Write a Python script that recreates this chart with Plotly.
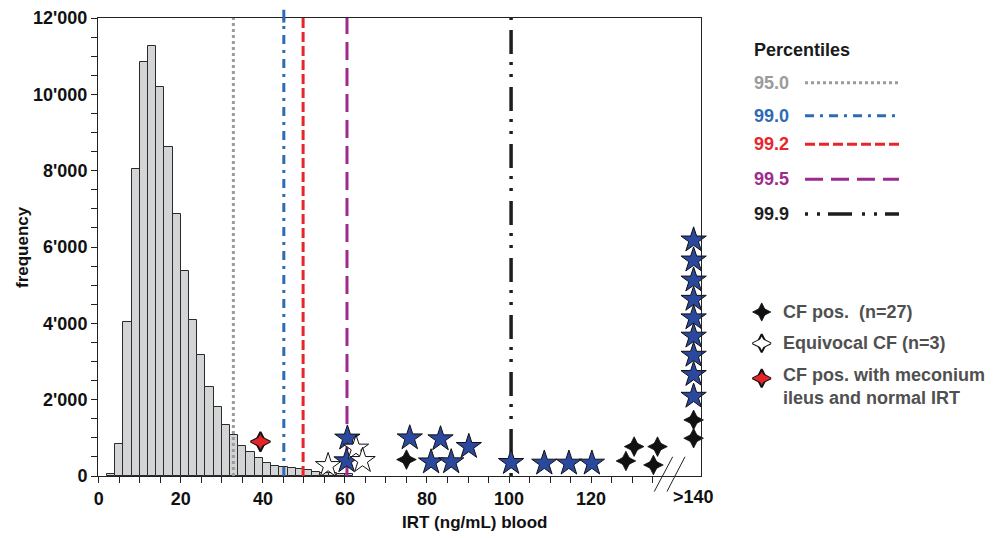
import plotly.graph_objects as go

# ---------------- data ----------------
bin_left = list(range(2, 62, 2))
bin_counts = [50, 850, 4040, 8050, 10860, 11260, 10200, 8630, 6860, 5370,
              4100, 3160, 2340, 1820, 1340, 1080, 780, 625, 470, 345,
              270, 230, 205, 175, 158, 96, 79, 70, 60, 50]
BIN_WIDTH = 2

percentile_labels = ["95.0", "99.0", "99.2", "99.5", "99.9"]
percentile_values = [32.8, 45.1, 49.8, 60.5, 100.5]

OVER_140 = 145  # plotted position of the ">140" column

cf_pos_x = [75.0, 128.5, 130.5, 135.2, 136.2, OVER_140, OVER_140]
cf_pos_y = [430, 394, 770, 289, 770, 1470, 990]
cf_star_x = [60.6, 60.4, 75.8, 83.3, 81.0, 85.9, 90.2, 100.5, 108.6, 114.6, 120.2] + [OVER_140] * 9
cf_star_y = [990, 394, 995, 970, 365, 368, 770, 350, 333, 333, 333,
             6180, 5655, 5130, 4625, 4140, 3660, 3160, 2655, 2085]
equivocal_x = [55.9, 62.7, 64.3]
equivocal_y = [270, 727, 402]
meconium_x = [39.4]
meconium_y = [900]

x_tick_values = list(range(0, 140, 5))
y_tick_values = list(range(0, 12500, 500))

legend_title = "Percentiles"
marker_legend_labels = ["CF pos.  (n=27)", "Equivocal CF (n=3)",
                        "CF pos. with meconium<br>ileus and normal IRT"]

# ---------------- styles ----------------
FONT = "Liberation Sans, Arial, Helvetica, sans-serif"
STAR4_SIZE = 14
percentile_colors = ["#9b9b9b", "#2f6bb5", "#e8252b", "#9e2a8e", "#1e1e1e"]
percentile_dashes = ["3px,3px", "9px,6px,3px,6px", "10px,4px", "18px,8px",
                     "3px,9px,3px,8px,24px,10px"]
percentile_widths = [3, 3, 3, 3, 3.5]
STAR_BLUE = "#2a489e"
OUTLINE = "#111111"
LEGEND_TEXT = "#505050"

# page body has an 8px offset; figure is sized/margined to compensate
OFF = 8
W, H = 1003 - OFF, 538 - OFF
ML, MT = 98 - OFF, 18 - OFF
BOTTOM = 476 - OFF
MB = H - BOTTOM
PLOT_RIGHT = 701 - OFF
paper_w = W - ML
main_dom = (PLOT_RIGHT - ML) / paper_w
X_RANGE = [-0.2, 146.8]
Y_RANGE = [0, 12000]

fig = go.Figure()

# histogram
fig.add_trace(go.Bar(
    x=[l + BIN_WIDTH / 2 for l in bin_left], y=bin_counts, width=BIN_WIDTH,
    marker=dict(color="#d3d4d6", line=dict(color="#2a2a2a", width=1)),
    showlegend=False, hoverinfo="x+y"))

# percentile lines
for v, c, d, w in zip(percentile_values, percentile_colors, percentile_dashes, percentile_widths):
    fig.add_trace(go.Scatter(x=[v, v], y=Y_RANGE, mode="lines",
                             line=dict(color=c, dash=d, width=w),
                             showlegend=False, hoverinfo="skip"))


def star4(x, y, fill, xaxis="x", yaxis="y", size=STAR4_SIZE):
    """Thin 4-pointed star: union of a tall and a wide diamond marker."""
    common = dict(x=x, y=y, mode="markers", cliponaxis=False, xaxis=xaxis, yaxis=yaxis,
                  showlegend=False, hoverinfo="skip")
    if fill == OUTLINE:
        return [go.Scatter(marker=dict(symbol=s, size=size, color=fill,
                                       line=dict(color=fill, width=0.8)), **common)
                for s in ("diamond-wide", "diamond-tall")]
    return [
        go.Scatter(marker=dict(symbol="diamond-wide", size=size, color=fill,
                               line=dict(color=OUTLINE, width=2)), **common),
        go.Scatter(marker=dict(symbol="diamond-tall", size=size, color=fill,
                               line=dict(color=OUTLINE, width=2)), **common),
        go.Scatter(marker=dict(symbol="diamond-wide", size=size, color=fill,
                               line=dict(width=0)), **common),
    ]


# markers
fig.add_trace(go.Scatter(x=cf_star_x, y=cf_star_y, mode="markers", cliponaxis=False,
                         marker=dict(symbol="star", size=19, color=STAR_BLUE,
                                     line=dict(color=OUTLINE, width=1)),
                         showlegend=False))
fig.add_trace(go.Scatter(x=equivocal_x, y=equivocal_y, mode="markers", cliponaxis=False,
                         marker=dict(symbol="star", size=19, color="white",
                                     line=dict(color=OUTLINE, width=1)),
                         showlegend=False))
for t in star4(cf_pos_x, cf_pos_y, OUTLINE):
    fig.add_trace(t)
for t in star4(meconium_x, meconium_y, "#e42527"):
    fig.add_trace(t)

# ---------------- legend (pixel-coordinate overlay axes) ----------------
LEG_X0 = 720 - OFF
legend_rows_y = [82.7, 115.7, 144.3, 179.3, 214.0]
marker_rows_y = [312.0, 343.3, 378.3]
marker_text_y = [312.0, 343.3, 386.7]
marker_fills = [OUTLINE, "white", "#e42527"]

for col, yy in zip(marker_fills, marker_rows_y):
    for t in star4([761.7 - OFF], [yy - OFF], col, xaxis="x2", yaxis="y2", size=13):
        fig.add_trace(t)

annotations = []
shapes = []
annotations.append(dict(x=752 - OFF, y=50 - OFF, xref="x2", yref="y2", text=legend_title,
                        showarrow=False, xanchor="left", yanchor="middle",
                        font=dict(family=FONT, size=18, color="#1a1a1a", weight="bold")))
for lab, c, d, w, yy in zip(percentile_labels, percentile_colors, percentile_dashes,
                            percentile_widths, legend_rows_y):
    annotations.append(dict(x=752 - OFF, y=yy - OFF, xref="x2", yref="y2", text=lab,
                            showarrow=False, xanchor="left", yanchor="middle",
                            font=dict(family=FONT, size=18, color=c, weight="bold")))
    shapes.append(dict(type="line", xref="x2", yref="y2", x0=805 - OFF, x1=899 - OFF,
                       y0=yy - OFF, y1=yy - OFF, line=dict(color=c, dash=d, width=w)))
for lab, yy in zip(marker_legend_labels, marker_text_y):
    annotations.append(dict(x=781 - OFF, y=yy - OFF, xref="x2", yref="y2", text=lab,
                            showarrow=False, xanchor="left", yanchor="middle", align="left",
                            font=dict(family=FONT, size=18, color=LEGEND_TEXT, weight="bold")))

# ">140" label and axis break
annotations.append(dict(x=OVER_140, y=0, xref="x", yref="paper", text=">140", showarrow=False,
                        xanchor="center", yanchor="middle", yshift=-21,
                        font=dict(family=FONT, size=18, color="#111", weight="bold")))
for bx0, bx1 in [(135.4, 139.9), (138.5, 142.9)]:
    shapes.append(dict(type="line", xref="x", yref="paper", x0=bx0, x1=bx1,
                       y0=-0.034, y1=0.042, line=dict(color="#222", width=1)))
# blue percentile overshoot above frame
shapes.append(dict(type="line", xref="x", yref="paper", x0=percentile_values[1],
                   x1=percentile_values[1], y0=0.99, y1=1.018,
                   line=dict(color=percentile_colors[1], width=3)))

# axis titles
annotations.append(dict(x=main_dom / 2, y=0, xref="paper", yref="paper",
                        text="IRT (ng/mL) blood", showarrow=False, yanchor="middle",
                        yshift=-46, font=dict(family=FONT, size=17, color="#111", weight="bold")))
annotations.append(dict(x=0, y=0.5, xref="paper", yref="paper", text="frequency",
                        showarrow=False, textangle=-90, xanchor="center", yanchor="middle",
                        xshift=-76, font=dict(family=FONT, size=17, color="#111", weight="bold")))

tickfont = dict(family=FONT, size=18, color="#111", weight="bold")
fig.update_layout(
    width=W, height=H,
    margin=dict(l=ML, r=0, t=MT, b=MB, pad=0),
    paper_bgcolor="white", plot_bgcolor="white",
    bargap=0, showlegend=False,
    xaxis=dict(domain=[0, main_dom], range=X_RANGE, showgrid=False, zeroline=False,
               showline=True, linecolor="#222", linewidth=1, mirror=True,
               ticks="outside", ticklen=6, tickwidth=1, tickcolor="#222",
               tickmode="array", tickvals=x_tick_values,
               ticktext=[str(v) if v % 20 == 0 else "" for v in x_tick_values],
               tickfont=tickfont),
    yaxis=dict(domain=[0, 1], range=Y_RANGE, showgrid=False, zeroline=False,
               showline=True, linecolor="#222", linewidth=1, mirror=True,
               ticks="outside", ticklen=6, tickwidth=1, tickcolor="#222",
               tickmode="array", tickvals=y_tick_values,
               ticktext=[(f"{v // 1000}'000" if v else "0") if v % 2000 == 0 else ""
                         for v in y_tick_values],
               tickfont=tickfont),
    xaxis2=dict(domain=[(LEG_X0 - ML) / paper_w, 1], range=[LEG_X0, W], visible=False,
                anchor="y2", fixedrange=True),
    yaxis2=dict(domain=[0, 1], range=[BOTTOM, MT], visible=False, anchor="x2",
                fixedrange=True),
    annotations=annotations, shapes=shapes,
)

fig.write_html("out.html")
